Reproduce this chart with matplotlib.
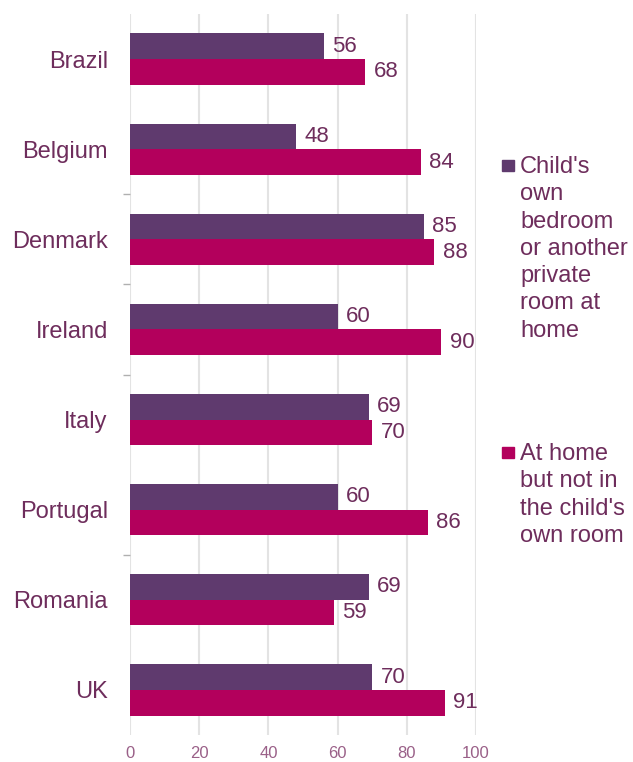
import matplotlib
matplotlib.use("Agg")
import matplotlib.pyplot as plt
from matplotlib.patches import Rectangle
import numpy as np

plt.rcParams['font.family'] = ['Liberation Sans', 'DejaVu Sans']

countries = ["Brazil", "Belgium", "Denmark", "Ireland", "Italy", "Portugal", "Romania", "UK"]
own_room = [56, 48, 85, 60, 69, 60, 69, 70]
home_not_own = [68, 84, 88, 90, 70, 86, 59, 91]
series_names = ["Child's\nown\nbedroom\nor another\nprivate\nroom at\nhome",
                "At home\nbut not in\nthe child's\nown room"]
x_ticks = [0, 20, 40, 60, 80, 100]

C_PURPLE = "#5f3a6e"
C_PINK = "#b3005c"
C_TEXT = "#6e2d5c"
C_TICK = "#9a6088"

W, H = 633, 762
fig = plt.figure(figsize=(W / 100, H / 100), dpi=100)
ax = fig.add_axes([130 / W, 1 - 735 / H, (476 - 130) / W, (735 - 14) / H])

y = np.arange(len(countries))
bh = 0.285
ax.barh(y - bh / 2, own_room, height=bh, color=C_PURPLE, zorder=3)
ax.barh(y + bh / 2, home_not_own, height=bh, color=C_PINK, zorder=3)

for yi, v in zip(y, own_room):
    ax.annotate(str(v), (v, yi - bh / 2), xytext=(6, 0), textcoords="offset points",
                va="center", ha="left", fontsize=16, color=C_TEXT, annotation_clip=False)
for yi, v in zip(y, home_not_own):
    ax.annotate(str(v), (v, yi + bh / 2), xytext=(6, 0), textcoords="offset points",
                va="center", ha="left", fontsize=16, color=C_TEXT, annotation_clip=False)

ax.set_xlim(0, 100)
ax.set_ylim(len(countries) - 0.5, -0.5)
ax.set_xticks(x_ticks)
ax.set_xticklabels([str(t) for t in x_ticks], fontsize=12, color=C_TICK)
ax.set_yticks(y)
ax.set_yticklabels(countries, fontsize=17, color=C_TEXT)
ax.set_yticks([1.5, 2.5, 3.5, 5.5], minor=True)
ax.tick_params(axis="y", which="major", length=0, pad=16)
ax.tick_params(axis="y", which="minor", length=5, width=1, color="#b0b0b0", pad=3)
ax.tick_params(axis="x", length=0, pad=8)
ax.grid(axis="x", color="#e3e3e3", linewidth=1.5, zorder=0)
ax.grid(axis="y", visible=False)
for s in ax.spines.values():
    s.set_visible(False)

# legend
colors = [C_PURPLE, C_PINK]
tops = [156, 443]
for name, col, top in zip(series_names, colors, tops):
    fig.patches.append(Rectangle((502 / W, 1 - (top + 15) / H), 12 / W, 11 / H,
                                 transform=fig.transFigure, color=col))
    fig.text(520 / W, 1 - top / H, name, fontsize=17, color=C_TEXT,
             va="top", ha="left", linespacing=1.31)

fig.savefig("out.png", dpi=100, facecolor="white")
